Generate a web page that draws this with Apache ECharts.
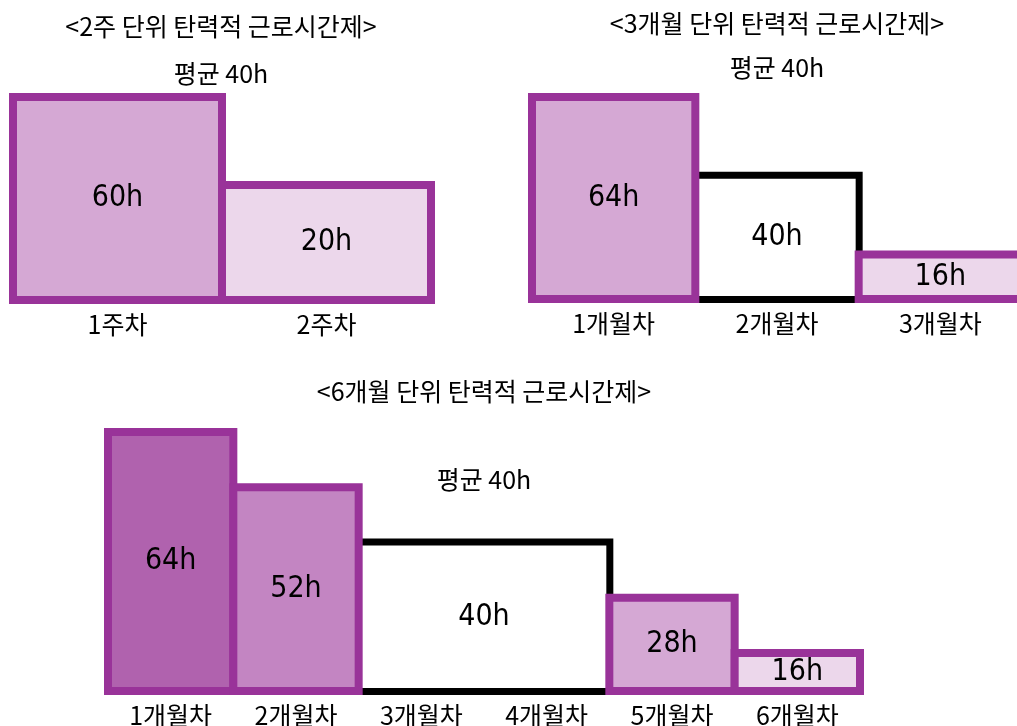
<!DOCTYPE html>
<html>
<head>
<meta charset="utf-8">
<script src="https://cdn.jsdelivr.net/npm/echarts@6/dist/echarts.min.js"></script>
<style>
  html, body { margin: 0; padding: 0; background: #fff; }
  #main { width: 1017px; height: 726px; }
</style>
</head>
<body>
<div id="main"></div>
<script>
// 데이터
var weekCats = ['1주차', '2주차'];
var weekValues = [60, 20];

var month3Cats = ['1개월차', '2개월차', '3개월차'];
var month3Values = [64, 40, 16];
var month3AvgIdx = [1];

var month6Cats = ['1개월차', '2개월차', '3개월차', '4개월차', '5개월차', '6개월차'];
var month6Values = [64, 52, 40, 40, 28, 16];
var month6AvgIdx = [2, 3];

var titles = ['<2주 단위 탄력적 근로시간제>', '<3개월 단위 탄력적 근로시간제>', '<6개월 단위 탄력적 근로시간제>'];
var avgText = '평균 40h';

// 스타일
var purple = '#993399';
var weekColors = ['#D5A8D4', '#ECD7EB'];
var month3Colors = ['#D5A8D4', '#fff', '#ECD7EB'];
var month6Colors = ['#B062AE', '#C385C2', '#fff', '#fff', '#D5A8D4', '#ECD7EB'];

var krFont = '"Noto Sans CJK KR", sans-serif';
var numFont = '"DejaVu Sans", sans-serif';

// 칸 너비 (테두리가 겹치도록 +8)
var slot1 = 209, slot2 = 163.33, slot3 = 125.33;
var border = 8;

var myChart = echarts.init(document.getElementById('main'));

function purpleData(values, colors, avgIdx) {
    var list = [];
    for (var i = 0; i < values.length; i++) {
        if (avgIdx.indexOf(i) >= 0) {
            list.push(null);
        } else {
            list.push({ value: values[i], itemStyle: { color: colors[i] } });
        }
    }
    return list;
}

var barLabel = {
    show: true,
    position: 'inside',
    formatter: '{c}h',
    color: '#000',
    fontSize: 30,
    fontWeight: 'condensed',
    fontFamily: numFont
};

function catAxis(gridIndex, cats, show) {
    return {
        type: 'category',
        gridIndex: gridIndex,
        data: cats,
        show: show,
        axisLine: { show: false },
        axisTick: { show: false },
        axisLabel: { margin: 8, fontSize: 25, color: '#000', fontFamily: krFont }
    };
}

function valAxis(gridIndex, min, max) {
    return {
        type: 'value',
        gridIndex: gridIndex,
        min: min,
        max: max,
        startValue: min,
        show: false,
        splitLine: { show: false }
    };
}

function textEl(x, y, text) {
    return {
        type: 'text',
        x: x,
        y: y,
        style: {
            text: text,
            fill: '#000',
            fontSize: 25,
            fontFamily: krFont,
            textAlign: 'center',
            textVerticalAlign: 'middle'
        }
    };
}

// 6개월 평균 구간 (3~4개월차를 하나로)
var spanCats = ['', '', ''];
var spanData = [null, month6Values[month6AvgIdx[0]], null];

var option = {
    animation: false,
    grid: [
        { left: 13, top: 93, width: 418, height: 211, outerBoundsMode: 'none' },
        { left: 532, top: 93, width: 490, height: 210, outerBoundsMode: 'none' },
        { left: 108, top: 428, width: 752, height: 267, outerBoundsMode: 'none' }
    ],
    xAxis: [
        catAxis(0, weekCats, true),
        catAxis(1, month3Cats, true),
        catAxis(2, month6Cats, true),
        catAxis(2, spanCats, false)
    ],
    yAxis: [
        valAxis(0, -36, 60),
        valAxis(1, 0, 64),
        valAxis(2, 6, 64)
    ],
    graphic: [
        textEl(221, 26, titles[0]),
        textEl(221, 73, avgText),
        textEl(777, 23, titles[1]),
        textEl(777, 67, avgText),
        textEl(484, 391, titles[2]),
        textEl(484, 479, avgText)
    ],
    series: [
        {
            type: 'bar', xAxisIndex: 0, yAxisIndex: 0,
            barWidth: slot1 + border, clip: false, z: 3,
            data: purpleData(weekValues, weekColors, []),
            itemStyle: { borderColor: purple, borderWidth: border },
            label: barLabel
        },
        {
            type: 'bar', xAxisIndex: 1, yAxisIndex: 1,
            barWidth: slot2 + border, barGap: '-100%', clip: false, z: 2,
            data: month3Values.map(function (v, i) { return month3AvgIdx.indexOf(i) >= 0 ? v : null; }),
            itemStyle: { color: '#fff', borderColor: '#000', borderWidth: 7 },
            label: barLabel
        },
        {
            type: 'bar', xAxisIndex: 1, yAxisIndex: 1,
            barWidth: slot2 + border, barGap: '-100%', clip: false, z: 3,
            data: purpleData(month3Values, month3Colors, month3AvgIdx),
            itemStyle: { borderColor: purple, borderWidth: border },
            label: barLabel
        },
        {
            type: 'bar', xAxisIndex: 3, yAxisIndex: 2,
            barWidth: slot3 * 2 + border, clip: false, z: 2,
            data: spanData,
            itemStyle: { color: '#fff', borderColor: '#000', borderWidth: 7 },
            label: barLabel
        },
        {
            type: 'bar', xAxisIndex: 2, yAxisIndex: 2,
            barWidth: slot3 + border, clip: false, z: 3,
            data: purpleData(month6Values, month6Colors, month6AvgIdx),
            itemStyle: { borderColor: purple, borderWidth: border },
            label: barLabel
        }
    ]
};

myChart.setOption(option);
</script>
</body>
</html>
